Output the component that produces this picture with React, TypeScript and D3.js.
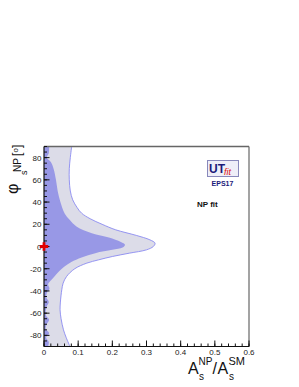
import React from "react";
import * as d3 from "d3";

const W = 299;
const H = 387;
const FRAME = { left: 44, right: 249, top: 146.5, bottom: 346.5 };

// 95% region (outer, light)
const phiOuter = [-90, -82, -75, -65, -57, -50, -39, -33, -27, -20, -15, -12, -9, -6, -3, 0, 3, 6, 10, 15, 20, 25, 30, 35, 42, 50, 60, 70, 80, 90];
const aOuter = [0.076, 0.065, 0.057, 0.05, 0.047, 0.048, 0.052, 0.056, 0.066, 0.09, 0.125, 0.16, 0.2, 0.25, 0.3, 0.32, 0.325, 0.31, 0.27, 0.21, 0.17, 0.135, 0.11, 0.097, 0.084, 0.077, 0.074, 0.074, 0.077, 0.081];

// 68% region (inner, blue)
const phiInner = [-90, -86, -82, -78, -74, -70, -66, -62, -58, -54, -50, -46, -42, -38, -34, -30, -26, -22, -18, -14, -10, -6, -3, -1, 1.5, 4, 8, 12, 18, 24, 30, 40, 50, 60, 70, 76, 80, 84, 90];
const aInner = [0.012, 0.014, 0.006, 0.015, 0.005, 0.008, 0.015, 0.006, 0.005, 0.008, 0.014, 0.007, 0.008, 0.016, 0.012, 0.022, 0.033, 0.045, 0.06, 0.08, 0.11, 0.15, 0.2, 0.23, 0.237, 0.225, 0.19, 0.14, 0.095, 0.075, 0.06, 0.048, 0.04, 0.035, 0.028, 0.02, 0.008, 0.014, 0.015];

const xTicks = [0, 0.1, 0.2, 0.3, 0.4, 0.5, 0.6];
const yTicks = [-80, -60, -40, -20, 0, 20, 40, 60, 80];

const FONT = "'Liberation Sans', Arial, Helvetica, sans-serif";

export default function App() {
  const x = d3.scaleLinear().domain([0, 0.6]).range([FRAME.left, FRAME.right]);
  const y = d3.scaleLinear().domain([-90, 90]).range([FRAME.bottom, FRAME.top]);

  const outer = phiOuter.map((p, i) => ({ p, a: aOuter[i] }));
  const inner = phiInner.map((p, i) => ({ p, a: aInner[i] }));

  const area = d3
    .area<{ p: number; a: number }>()
    .y((d) => y(d.p))
    .x0(x(0))
    .x1((d) => x(d.a))
    .curve(d3.curveCatmullRom);
  const line = d3
    .line<{ p: number; a: number }>()
    .y((d) => y(d.p))
    .x((d) => x(d.a))
    .curve(d3.curveCatmullRom);

  const xMinor = d3.range(0, 0.6001, 0.02);
  const yMinor = d3.range(-90, 90.01, 5);

  const cross = d3.symbol().type(d3.symbolCross).size(40)();

  return (
    <svg width={W} height={H} style={{ position: "absolute", left: 0, top: 0, background: "#fff" }} fontFamily={FONT}>
      <defs>
        <clipPath id="frame">
          <rect x={FRAME.left} y={FRAME.top} width={FRAME.right - FRAME.left} height={FRAME.bottom - FRAME.top} />
        </clipPath>
      </defs>

      <g clipPath="url(#frame)">
        <path d={area(outer) || ""} fill="#dcdce8" />
        <path d={line(outer) || ""} fill="none" stroke="#8a8af0" strokeWidth={0.9} />
        <path d={area(inner) || ""} fill="#9898e6" />
      </g>

      {/* frame */}
      <line x1={FRAME.left} x2={FRAME.right} y1={FRAME.top} y2={FRAME.top} stroke="#666" strokeWidth={1.5} />
      <line x1={FRAME.right} x2={FRAME.right} y1={FRAME.top} y2={FRAME.bottom} stroke="#666" strokeWidth={1.2} />
      <line x1={FRAME.left} x2={FRAME.right} y1={FRAME.bottom} y2={FRAME.bottom} stroke="#111" strokeWidth={1.2} />
      <line x1={FRAME.left} x2={FRAME.left} y1={FRAME.top} y2={FRAME.bottom} stroke="#111" strokeWidth={1.2} />

      {/* y ticks */}
      {yMinor.map((t) => (
        <line key={"ym" + t} x1={FRAME.left} x2={FRAME.left + 3} y1={y(t)} y2={y(t)} stroke="#111" strokeWidth={1} />
      ))}
      {yTicks.map((t) => (
        <g key={"y" + t}>
          <line x1={FRAME.left} x2={FRAME.left + 5.5} y1={y(t)} y2={y(t)} stroke="#111" strokeWidth={1} />
          <text x={41.5} y={y(t) + 3} fontSize={8} textAnchor="end" fill="#222">
            {t}
          </text>
        </g>
      ))}

      {/* x ticks */}
      {xMinor.map((t, i) => (
        <line key={"xm" + i} x1={x(t)} x2={x(t)} y1={FRAME.bottom} y2={FRAME.bottom - 3} stroke="#111" strokeWidth={1} />
      ))}
      {xTicks.map((t) => (
        <g key={"x" + t}>
          <line x1={x(t)} x2={x(t)} y1={FRAME.bottom} y2={FRAME.bottom - 6} stroke="#111" strokeWidth={1} />
          <text x={x(t)} y={355} fontSize={8} textAnchor="middle" fill="#222">
            {t === 0 ? "0" : String(t)}
          </text>
        </g>
      ))}

      {/* SM point */}
      <path d={cross || ""} transform={`translate(${x(0)},${y(0)})`} fill="#e00000" />

      {/* x axis title */}
      <text x={188} y={373.5} fontSize={16} fill="#111">A</text>
      <text x={199} y={380} fontSize={10} fill="#111">s</text>
      <text x={198.5} y={365} fontSize={10} fill="#111">NP</text>
      <text x={212.5} y={373.5} fontSize={16} fill="#111">/</text>
      <text x={217.5} y={373.5} fontSize={16} fill="#111">A</text>
      <text x={229} y={380} fontSize={10} fill="#111">s</text>
      <text x={228.5} y={365} fontSize={11} fill="#111">SM</text>

      {/* y axis title (rotated) */}
      <g transform="translate(20,194) rotate(-90)">
        <text x={0} y={-2} fontSize={16} fill="#111">φ</text>
        <text x={19} y={7} fontSize={9} fill="#111">s</text>
        <text x={22} y={1} fontSize={10} fill="#111">NP</text>
        <text x={38} y={1} fontSize={12} fill="#111">[</text>
        <text x={41.5} y={-2} fontSize={8} fill="#111">o</text>
        <text x={46} y={1} fontSize={12} fill="#111">]</text>
      </g>

      {/* logo */}
      <rect x={207.5} y={160.5} width={31} height={16} fill="#eeeef8" stroke="#8888bb" strokeWidth={1} />
      <text x={209} y={173} fontSize={12} fontWeight="bold" fill="#1a1a7a">UT</text>
      <text x={224} y={175} fontSize={9} fontStyle="italic" fill="#dd1111">fit</text>
      <text x={222.5} y={185.5} fontSize={7} fontWeight="bold" fill="#1a1a7a" textAnchor="middle">EPS17</text>

      <text x={197} y={207} fontSize={8} fontWeight="bold" fill="#111">NP fit</text>
    </svg>
  );
}
